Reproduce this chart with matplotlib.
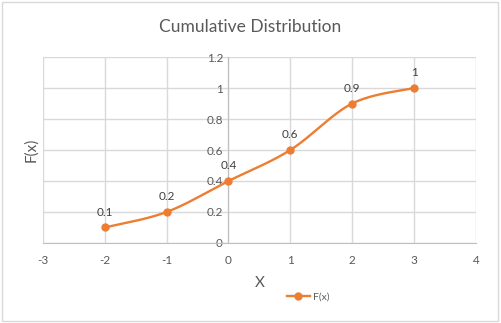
import numpy as np
import matplotlib.pyplot as plt
from matplotlib.patches import Rectangle

plt.rcParams['font.family'] = ['Lato', 'DejaVu Sans']

# cumulative distribution values
x_vals = [-2, -1, 0, 1, 2, 3]
f_vals = [0.1, 0.2, 0.4, 0.6, 0.9, 1.0]
x_ticks = [-3, -2, -1, 0, 1, 2, 3, 4]
y_ticks = [0, 0.2, 0.4, 0.6, 0.8, 1.0, 1.2]

orange = '#ED7D31'
text_col = '#595959'
grid_col = '#D9D9D9'


def smooth(xs, ys, n=40):
    # Catmull-Rom style bezier segments through the points
    p = np.column_stack([xs, ys]).astype(float)
    p_ext = np.vstack([p[0], p, p[-1]])
    out = []
    t = np.linspace(0, 1, n)[:, None]
    for i in range(len(p) - 1):
        p0, p1, p2, p3 = p_ext[i], p_ext[i + 1], p_ext[i + 2], p_ext[i + 3]
        c1 = p1 + (p2 - p0) / 6
        c2 = p2 - (p3 - p1) / 6
        seg = ((1 - t) ** 3) * p1 + 3 * ((1 - t) ** 2) * t * c1 + 3 * (1 - t) * t ** 2 * c2 + t ** 3 * p2
        out.append(seg if i == 0 else seg[1:])
    s = np.vstack(out)
    return s[:, 0], s[:, 1]


fig = plt.figure(figsize=(5.01, 3.23), dpi=100)
fig.patches.append(Rectangle((0.004, 0.006), 0.99, 0.988, transform=fig.transFigure,
                             fill=False, edgecolor='#D9D9D9', lw=1))
ax = fig.add_axes([0.0858, 0.2477, 0.864, 0.5758])

sx, sy = smooth(x_vals, f_vals)
ax.plot(sx, sy, color=orange, lw=1.7, zorder=3)
ax.plot(x_vals, f_vals, 'o', color=orange, ms=5, zorder=4)
for xv, fv in zip(x_vals, f_vals):
    ax.annotate('%g' % fv, (xv, fv), xytext=(0, 7), textcoords='offset points',
                ha='center', va='bottom', fontsize=8.5, color='#404040')

ax.set_xlim(-3, 4)
ax.set_ylim(0, 1.2)
ax.set_xticks(x_ticks)
ax.set_yticks(y_ticks)
ax.set_xticklabels(['%g' % v for v in x_ticks])
ax.set_yticklabels(['%g' % v for v in y_ticks])
ax.grid(True, color=grid_col, lw=1)
ax.set_axisbelow(True)
for s in ['top', 'right']:
    ax.spines[s].set_visible(False)
ax.spines['left'].set_position(('data', 0))
ax.spines['left'].set_color('#BFBFBF')
ax.spines['bottom'].set_color('#BFBFBF')
ax.tick_params(length=0, labelsize=8.5, colors=text_col)
ax.tick_params(axis='x', pad=9)
ax.tick_params(axis='y', pad=4)

fig.text(0.5, 0.915, 'Cumulative Distribution', ha='center', va='center',
         fontsize=12.5, color=text_col)
fig.text(0.519, 0.123, 'X', ha='center', va='center', fontsize=11, color=text_col)
fig.text(0.062, 0.535, 'F(x)', ha='center', va='center', rotation=90,
         fontsize=11, color=text_col)

handle, = ax.plot([], [], '-o', color=orange, lw=1.7, ms=5)
fig.legend([handle], ['F(x)'], loc='center', bbox_to_anchor=(0.615, 0.08),
           frameon=False, fontsize=7.5, labelcolor=text_col, handlelength=2.2,
           handletextpad=0.3)

fig.savefig('out.png', dpi=100)
